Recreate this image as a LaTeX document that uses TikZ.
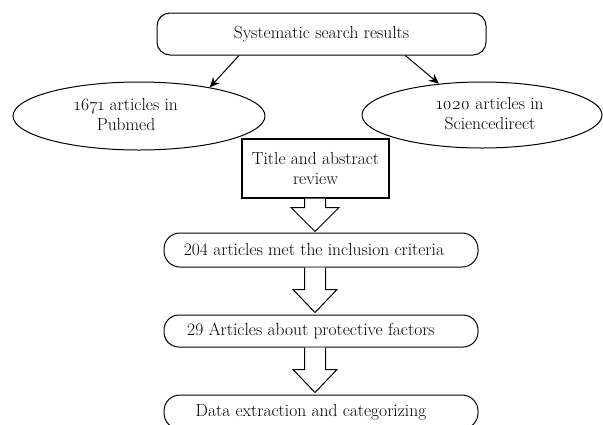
\documentclass[tikz,border=0pt]{standalone}
\usepackage{fontspec}
\newfontfamily\osf{Latin Modern Roman}[Numbers=OldStyle]
\usetikzlibrary{shapes.geometric,arrows.meta,calc}
\newcommand{\hollowarrow}[4]{%
  \path[bigarrow] ($(#1)+(-10.5,0)$) -- ($(#2)+(-10.5,-#3)$) -- ($(#2)+(-#4,-#3)$) -- (#2)
    -- ($(#2)+(#4,-#3)$) -- ($(#2)+(10.5,-#3)$) -- ($(#1)+(10.5,0)$);%
}
\begin{document}
\begin{tikzpicture}[x=1pt,y=-1pt,
  font=\fontsize{17.5}{20}\selectfont,
  roundbox/.style={draw, line width=1pt, rounded corners=13pt, inner sep=0pt},
  oval/.style={draw, ellipse, line width=1pt, inner sep=0pt},
  plainbox/.style={draw, line width=1.1pt, inner sep=0pt, align=center},
  txt/.style={align=center, inner sep=0pt},
  bigarrow/.style={draw, line width=1pt, fill=white, line join=miter},
  link/.style={draw, line width=1pt, -{Stealth[length=10pt,width=9pt]}}]
\clip (0,0) rectangle (603,424);
\useasboundingbox (0,0) rectangle (603,424);
\fill[white] (0,0) rectangle (603,424);

\node[roundbox, minimum width=329pt, minimum height=42pt] (search) at (321.5,34) {Systematic search results};

\node[oval, minimum width=252pt, minimum height=68pt] (pub) at (139,116) {};
\node[txt] (pubtxt) at (126,114) {{\osf 1671} articles in\\Pubmed};

\node[oval, minimum width=240pt, minimum height=66pt] (sci) at (482,115) {};
\node[txt] (scitxt) at (490,114) {{\osf 1020} articles in\\Sciencedirect};

\node[plainbox, minimum width=147pt, minimum height=59pt] (title) at (315.5,168.5) {Title and abstract\\review};

\node[roundbox, rounded corners=16pt, minimum width=314pt, minimum height=34pt] (incl) at (321,250) {204 articles met the inclusion criteria\kern14pt};
\node[roundbox, rounded corners=15pt, minimum width=314pt, minimum height=32pt] (prot) at (321,331) {29 Articles about protective factors\kern20pt};
\node[roundbox, rounded corners=16pt, minimum width=314pt, minimum height=34pt] (data) at (321,412) {Data extraction and categorizing\kern20pt};

\draw[link] ($(search.south west)!0.25!(search.south east)$) -- (pub.22);
\draw[link] ($(search.south west)!0.754!(search.south east)$) -- (sci.144);

\coordinate (axis) at (315,0);
\coordinate (a1s) at (axis |- title.south);
\coordinate (a1t) at ($(axis |- incl.north)+(0,-1)$);
\coordinate (a2s) at (axis |- incl.south);
\coordinate (a2t) at ($(axis |- prot.north)+(0,-2)$);
\coordinate (a3s) at (axis |- prot.south);
\coordinate (a3t) at ($(axis |- data.north)+(0,-2)$);
\hollowarrow{a1s}{a1t}{24}{24}
\hollowarrow{a2s}{a2t}{23}{22}
\hollowarrow{a3s}{a3t}{23}{22}
\end{tikzpicture}
\end{document}
